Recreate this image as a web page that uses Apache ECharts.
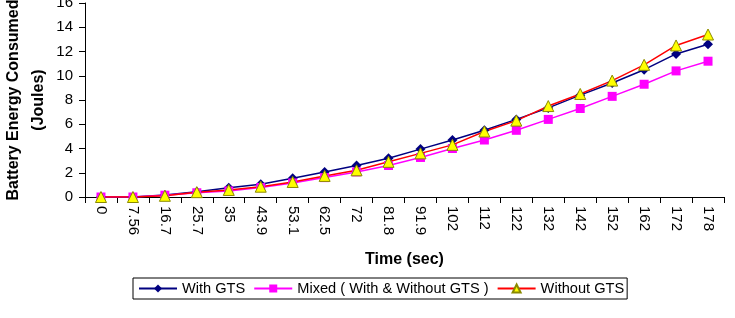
<!DOCTYPE html>
<html>
<head>
<meta charset="utf-8">
<script src="https://cdn.jsdelivr.net/npm/echarts@6/dist/echarts.min.js"></script>
<style>
  html, body { margin: 0; padding: 0; background: #fff; }
  #chart { width: 735px; height: 318px; }
</style>
</head>
<body>
<div id="chart"></div>
<script>
var timeLabels = ['0', '7.56', '16.7', '25.7', '35', '43.9', '53.1', '62.5', '72', '81.8',
                  '91.9', '102', '112', '122', '132', '142', '152', '162', '172', '178'];
var withGts    = [0, 0, 0.17, 0.44, 0.77, 1.05, 1.55, 2.07, 2.6, 3.2,
                  3.95, 4.7, 5.5, 6.4, 7.35, 8.4, 9.4, 10.5, 11.8, 12.6];
var mixed      = [0, 0, 0.15, 0.35, 0.5, 0.78, 1.16, 1.6, 2.07, 2.6,
                  3.26, 4.0, 4.7, 5.5, 6.4, 7.3, 8.3, 9.3, 10.4, 11.2];
var withoutGts = [0, 0, 0.1, 0.4, 0.58, 0.85, 1.24, 1.74, 2.2, 2.9,
                  3.6, 4.3, 5.4, 6.3, 7.5, 8.5, 9.6, 10.9, 12.5, 13.4];

var font = 'Liberation Sans, Arial, sans-serif';
var chart = echarts.init(document.getElementById('chart'));

var option = {
    animation: false,
    textStyle: { fontFamily: font, color: '#000' },
    grid: { left: 85, right: 11, top: 3, bottom: 121, containLabel: false, outerBoundsMode: 'none' },
    legend: {
        left: 133,
        top: 278,
        padding: [3, 3, 3, 5],
        itemGap: 8,
        itemWidth: 38,
        itemHeight: 10,
        borderColor: '#000',
        borderWidth: 1,
        textStyle: { fontSize: 14.6, color: '#000', fontFamily: font },
        data: ['With GTS', 'Mixed ( With & Without GTS )', 'Without GTS']
    },
    xAxis: {
        type: 'category',
        data: timeLabels,
        boundaryGap: true,
        name: 'Time (sec)',
        nameLocation: 'middle',
        nameGap: 55,
        nameMoveOverlap: false,
        nameTextStyle: { fontSize: 16, fontWeight: 'bold', color: '#000' },
        axisLine: { lineStyle: { color: '#000', width: 1 } },
        axisTick: { show: true, alignWithLabel: false, length: 6, lineStyle: { color: '#000' } },
        axisLabel: { rotate: -90, fontSize: 15, color: '#000', margin: 9, interval: 0 },
        splitLine: { show: false }
    },
    yAxis: {
        type: 'value',
        min: 0,
        max: 16,
        interval: 2,
        name: 'Battery Energy Consumed\n(Joules)',
        nameLocation: 'middle',
        nameGap: 34,
        nameMoveOverlap: false,
        nameTextStyle: { fontSize: 16, fontWeight: 'bold', color: '#000', lineHeight: 25 },
        axisLine: { show: true, lineStyle: { color: '#000', width: 1 } },
        axisTick: { show: true, length: 6, lineStyle: { color: '#000' } },
        axisLabel: { fontSize: 15, color: '#000', margin: 12 },
        splitLine: { show: false }
    },
    series: [
        {
            name: 'With GTS',
            type: 'line',
            data: withGts,
            symbol: 'diamond',
            symbolSize: 10,
            lineStyle: { color: '#000080', width: 1.5 },
            itemStyle: { color: '#000080' }
        },
        {
            name: 'Mixed ( With & Without GTS )',
            type: 'line',
            data: mixed,
            symbol: 'rect',
            symbolSize: 9,
            lineStyle: { color: '#ff00ff', width: 1.5 },
            itemStyle: { color: '#ff00ff' }
        },
        {
            name: 'Without GTS',
            type: 'line',
            data: withoutGts,
            symbol: 'triangle',
            symbolSize: 11,
            lineStyle: { color: '#ff0000', width: 1.5 },
            itemStyle: { color: '#ffff00', borderColor: '#8a8a00', borderWidth: 1 }
        }
    ]
};

chart.setOption(option);
</script>
</body>
</html>
